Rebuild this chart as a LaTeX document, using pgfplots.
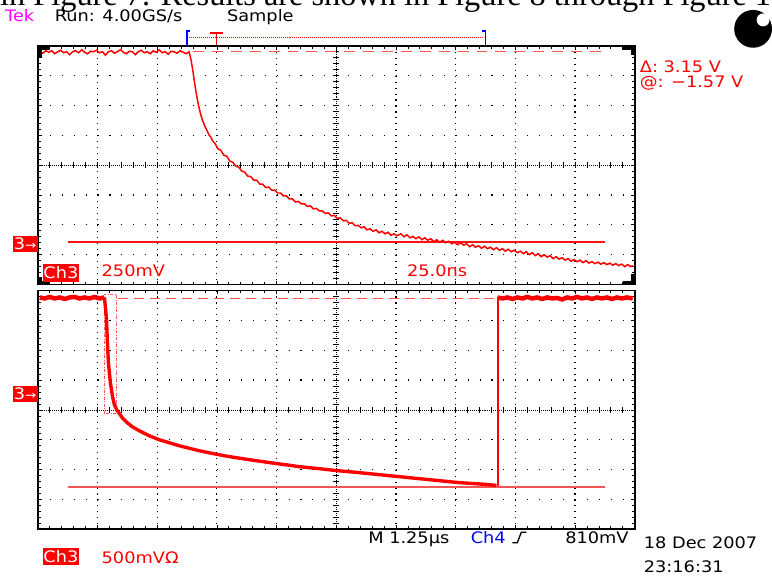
\documentclass[border=0pt]{standalone}
\usepackage{pgfplots}
\pgfplotsset{compat=1.18}
\usepackage{fontspec}
\setmainfont{DejaVu Sans}
\newfontfamily\tek{DejaVu Sans}[FakeStretch=1.12]
\newfontfamily\doc{Liberation Serif}

\definecolor{trace}{RGB}{255,0,0}
\definecolor{cursortop}{RGB}{255,20,20}
\definecolor{cursorbot}{RGB}{245,85,85}
\definecolor{refdash}{RGB}{255,85,85}
\definecolor{tekmag}{RGB}{255,0,255}
\definecolor{tekblue}{RGB}{0,0,255}

\pgfplotsset{
  scopepanel/.style={
    anchor=north west, scale only axis, width=600bp, height=240bp,
    xmin=38, xmax=638, y dir=reverse,
    axis line style={black, line width=1.6bp},
    xtick={98,158,...,578}, minor xtick={50,62,...,626},
    xticklabels={}, yticklabels={},
    tick align=inside, major tick length=4bp, minor tick length=3bp,
    tick style={black, line width=0.7bp},
  }
}

\begin{document}
\begin{tikzpicture}
\begin{scope}[x=1bp,y=-1bp]
  \path[use as bounding box] (0,0) rectangle (772,580);
  % running text of the page above the screen capture
  \node[anchor=base west, inner sep=0] at (0,6)
    {\doc\fontsize{32.6}{38}\selectfont in Figure 7. Results are shown in Figure 8 through Figure 1};
  % graticule
  \foreach \py in {46,292} {
    \foreach \gx in {98,158,218,278,398,458,518,578}
      \draw[black, line width=1.1bp, dash pattern=on 1.1bp off 4.9bp] (\gx,\py) -- (\gx,\py+240);
    \foreach \gy in {30,60,90,150,180,210}
      \draw[black, line width=1.1bp, dash pattern=on 1.1bp off 10.9bp] (38,\py+\gy) -- (638,\py+\gy);
    \draw[black, line width=0.7bp, dash pattern=on 0.7bp off 1.3bp] (338,\py) -- (338,\py+240);
    \draw[black, line width=0.7bp, dash pattern=on 0.7bp off 1.3bp] (38,\py+120) -- (638,\py+120);
    \foreach \t in {6,12,...,234}
      \draw[black, line width=0.7bp] (335,\py+\t) -- (341,\py+\t);
    \foreach \t in {50,62,...,626}
      \draw[black, line width=0.7bp] (\t,\py+117) -- (\t,\py+123);
  }
\end{scope}

% zoomed window
\begin{axis}[scopepanel, at={(38bp,-46bp)}, ymin=46, ymax=286,
  ytick={76,106,...,256}, minor ytick={52,58,...,280}]
  \addplot[color=refdash, line width=1.3bp, dash pattern=on 11bp off 8bp] coordinates {(194,52) (610,52)};
  \addplot[color=cursortop, line width=1.6bp] coordinates {(68,243.5) (608,243.5)};
  \addplot[color=trace, line width=1.5bp] coordinates {
    (40,52)(43,53.5)(46,51)(49,52.5)(52,51)(55,54)(58,52)(61,50.5)(64,53)(67,52)
    (70,55)(73,52)(76,51)(79,53)(82,50)(85,52.5)(88,54)(91,51.5)(94,52)(97,50.5)
    (100,53)(103,52)(106,55.5)(109,52)(112,51)(115,53.5)(118,52)(121,50)(124,52.5)(127,54)
    (130,51.5)(133,52)(136,55)(139,52)(142,50.5)(145,53)(148,52)(151,54)(154,51)(157,52.5)
    (160,50)(163,53)(166,52)(169,54.5)(172,51.5)(175,52)(178,53.5)(181,51)(184,52.5)(187,54)
    (190,52)(192,60)(194,72)(196,86)(198,98)(200,108)(202,116)(204,122)(206,127)(208,131)
    (210,135.5)(212,138)(214,142)(216,144)(219,149.5)(222,151)(225,156)(228,157)(231,162)(234,163)
    (237,167)(240,168)(243,172)(246,173)(249,177)(252,177.5)(255,181)(258,181)(261,185)(264,185)
    (267,188.5)(270,188)(273,191)(276,191)(279,194)(282,194)(285,197)(288,197)(291,200)(294,200)
    (297,203)(300,202.5)(303,205)(306,205)(309,207.5)(312,207)(315,210)(318,209.5)(321,212)(324,212)
    (327,214.5)(330,214)(333,217)(336,216.5)(339,219.5)(342,219)(345,222)(348,221.5)(351,224.5)(354,224)
    (357,227)(360,226.5)(363,229)(366,228)(369,231)(372,230)(375,232.5)(378,231)(381,234)(384,232.5)
    (387,235)(390,233.5)(393,236.5)(396,235)(399,237)(403,235)(406,238)(409,236)(412,239)(415,237.5)
    (418,240)(421,238)(424,241)(427,239)(430,241.5)(433,240)(436,243)(439,241)(442,243.5)(445,241.5)
    (448,244)(451,242.5)(454,245)(457,243.5)(460,246)(463,244)(466,246.5)(469,245)(472,248)(475,246)
    (478,248.5)(481,247)(484,249.5)(487,247.5)(490,250)(493,248.5)(496,251)(499,249)(502,251.5)(505,250)
    (508,252.5)(511,250.5)(514,253)(517,251.5)(520,254)(523,252.5)(526,255)(529,253)(532,256)(535,254)
    (538,257)(541,255)(544,258)(547,256)(550,258.5)(553,257)(556,260)(559,258)(562,260.5)(565,259)
    (568,261.5)(571,260)(574,262.5)(577,261)(580,263)(583,261.5)(586,264)(589,262)(592,264.5)(595,263)
    (598,265)(601,263.5)(604,265.5)(607,264)(610,266)(613,264.5)(616,266.5)(619,265)(622,267)(625,265.5)
    (628,268)(631,266)(634,268)(636,267)
  };
\end{axis}

% main time base
\begin{axis}[scopepanel, at={(38bp,-292bp)}, ymin=292, ymax=532,
  ytick={322,352,...,502}, minor ytick={298,304,...,526}]
  \addplot[color=refdash, line width=1.3bp, dash pattern=on 10bp off 6bp] coordinates {(119,300) (610,300)};
  \addplot[color=refdash, line width=0.9bp, dash pattern=on 3bp off 1.5bp on 1bp off 1.5bp]
    coordinates {(105,416) (105,296) (117,296) (117,416) (105,416)};
  \addplot[color=cursorbot, line width=1.8bp] coordinates {(68,489.5) (608,489.5)};
  \addplot[color=trace, line width=4.5bp] coordinates {
    (40,299)(45,300)(50,298.5)(55,300)(60,299)(65,300.5)(70,299)(75,298.5)(80,300)(85,299)
    (90,300)(95,298.5)(100,300)(105,299)};
  \addplot[color=trace, line width=3.4bp] coordinates {
    (105,299)(107,320)(108,345)(109,365)(111,385)(113,398)(115,407)(118,413)(123,420)(128,425)
    (133,429)(140,433)(150,438)(160,442)(170,445)(180,448)(190,450.5)(200,453)(212,455.5)(225,458)
    (237,460)(250,462)(264,464)(278,466)(290,467.5)(300,469)(320,471)(338,473)(355,474.5)(370,476)
    (385,477.5)(400,479)(415,480.5)(430,482)(445,483.5)(460,485)(475,486)(490,487)(499,488)};
  \addplot[color=trace, line width=1.8bp] coordinates {(500.5,488.5) (500.5,299)};
  \addplot[color=trace, line width=4.5bp] coordinates {
    (500,299)(505,300)(510,299)(515,300.5)(520,299)(525,300)(530,298.5)(535,300)(540,299)(545,300.5)
    (550,299)(555,300)(560,299.5)(565,301)(570,299)(575,300)(580,298.5)(585,300)(590,299)(595,300.5)
    (600,299)(605,300)(610,299)(615,300.5)(620,299)(625,300)(630,299)(636,300)};
\end{axis}

\begin{scope}[x=1bp,y=-1bp]
  % zoom-window corner markers
  \fill[black] (38,46) rectangle (50,50);
  \fill[black] (38,46) rectangle (42,58);
  \fill[black] (625,46) rectangle (638,50);
  \fill[black] (634,46) rectangle (638,55);
  \fill[black] (38,282) rectangle (50,286);
  \fill[black] (38,278) rectangle (42,286);
  \fill[black] (626,282) rectangle (638,286);
  \fill[black] (634,275) rectangle (638,286);
  % header line
  \node[anchor=base west, inner sep=0, text=tekmag] at (5,22) {\tek\fontsize{16}{18}\selectfont Tek};
  \node[anchor=base west, inner sep=0] at (55,22) {\tek\fontsize{16}{18}\selectfont Run: 4.00GS/s};
  \node[anchor=base west, inner sep=0] at (228,22) {\tek\fontsize{16}{18}\selectfont Sample};
  % trigger position bar
  \draw[tekblue, line width=1.5bp] (191,31) -- (188,31) -- (188,46);
  \draw[tekblue, line width=1.5bp] (484,31) -- (488,31) -- (488,46);
  \draw[trace, line width=0.9bp, dash pattern=on 1bp off 1bp] (190,38) -- (486,38);
  \draw[trace, line width=1.6bp] (211,33) -- (224,33);
  \draw[trace, line width=1.6bp] (217.5,33) -- (217.5,45);
  % power indicator
  \fill[black] (757,29) circle (19);
  \fill[white] (767,20) circle (6.5);
  % cursor readout
  \node[anchor=base west, inner sep=0, text=trace] at (643,73) {\tek\fontsize{16}{18}\selectfont Δ: 3.15 V};
  \node[anchor=base west, inner sep=0, text=trace] at (643,88) {\tek\fontsize{16}{18}\selectfont @: −1.57 V};
  % channel ground markers
  \node[anchor=north west, fill=trace, text=white, inner sep=0, minimum width=25bp, minimum height=16bp]
    at (12.5,237) {\tek\fontsize{16}{18}\selectfont 3\fontsize{12}{12}\selectfont→};
  \node[anchor=north west, fill=trace, text=white, inner sep=0, minimum width=25bp, minimum height=16bp]
    at (12.5,388) {\tek\fontsize{16}{18}\selectfont 3\fontsize{12}{12}\selectfont→};
  % scale readouts
  \node[anchor=north west, fill=trace, text=white, inner sep=0, minimum width=36bp, minimum height=18bp]
    at (43,265) {\tek\fontsize{16}{18}\selectfont Ch3};
  \node[anchor=base west, inner sep=0, text=trace] at (102,278) {\tek\fontsize{16}{18}\selectfont 250mV};
  \node[anchor=base west, inner sep=0, text=trace] at (409,278) {\tek\fontsize{16}{18}\selectfont 25.0ns};
  \node[anchor=north west, fill=trace, text=white, inner sep=0, minimum width=36bp, minimum height=17bp]
    at (43,551) {\tek\fontsize{16}{18}\selectfont Ch3};
  \node[anchor=base west, inner sep=0, text=trace] at (102,566) {\tek\fontsize{16}{18}\selectfont 500mVΩ};
  \node[anchor=base west, inner sep=0] at (370,546) {\tek\fontsize{16}{18}\selectfont M 1.25µs};
  \node[anchor=base west, inner sep=0, text=tekblue] at (473,546) {\tek\fontsize{16}{18}\selectfont Ch4};
  \draw[black, line width=1.3bp] (515,545.5) -- (520,545.5) -- (524,535) -- (529,535);
  \node[anchor=base west, inner sep=0] at (568,546) {\tek\fontsize{16}{18}\selectfont 810mV};
  \node[anchor=base west, inner sep=0] at (647,551) {\tek\fontsize{16}{18}\selectfont 18 Dec 2007};
  \node[anchor=base west, inner sep=0] at (647,575) {\tek\fontsize{16}{18}\selectfont 23:16:31};
\end{scope}
\end{tikzpicture}
\end{document}
